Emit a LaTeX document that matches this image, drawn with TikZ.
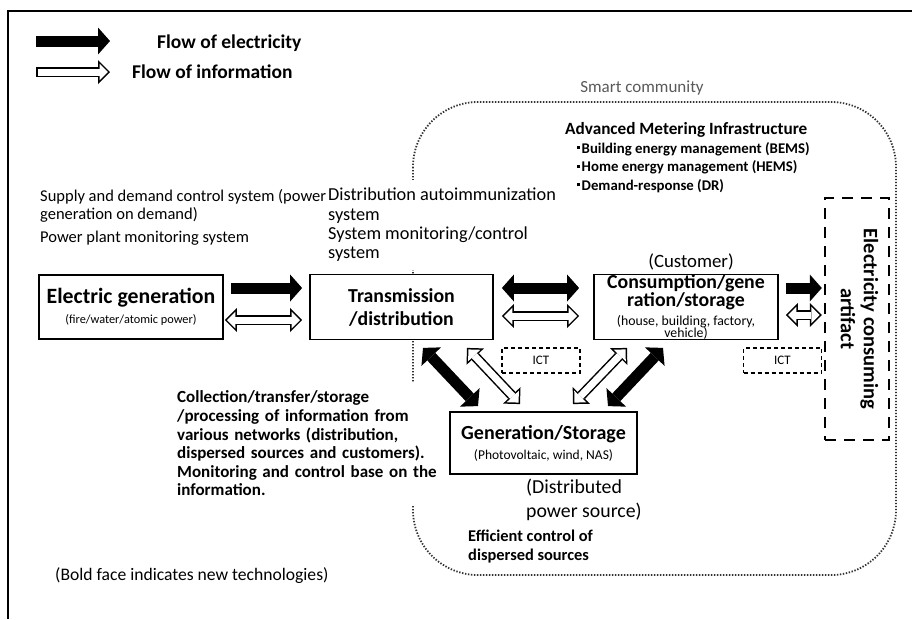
\documentclass[tikz,border=0pt]{standalone}
\usepackage{fontspec}
\setmainfont{Carlito}
\usepackage{tikz}
\usetikzlibrary{arrows.meta,positioning}
\tikzset{
    ElecTip/.tip={Triangle[length=12pt, width=27pt, line width=0pt]},
    InfoTip/.tip={Triangle[length=12pt, width=24pt, line width=0pt]},
    InfoIn/.tip={Triangle[length=8.4pt, width=16.8pt, line width=0pt]}
}
\newcommand{\amibullet}{\raisebox{4pt}{\rule{3pt}{3pt}}\hspace{1.5pt}}

\begin{document}
\begin{tikzpicture}[
    x=1pt, y=-1pt,
    box/.style={rectangle, draw, fill=white, line width=1.8pt, align=center, inner sep=0pt},
    ictbox/.style={rectangle, draw, line width=1.1pt, dash pattern=on 4pt off 3pt, minimum width=78pt, minimum height=25pt, font=\fontsize{13}{15}\selectfont},
    note/.style={anchor=west, align=left, inner sep=0pt},
    electo/.style={line width=11pt, -ElecTip},
    elecboth/.style={line width=11pt, ElecTip-ElecTip},
    infoto/.style={line width=10pt, -InfoTip, postaction={draw=white, line width=7pt, shorten <=1.5pt, shorten >=2.1pt, -InfoIn}},
    infoboth/.style={line width=10pt, InfoTip-InfoTip, postaction={draw=white, line width=7pt, shorten <=2.1pt, shorten >=2.1pt, InfoIn-InfoIn}},
    community/.style={draw=black!80, line width=1.8pt, dash pattern=on 1.4pt off 1.6pt, rounded corners=65pt}
]
\useasboundingbox (0,0) rectangle (912,619);

% Frame
\draw[line width=1.3pt] (912,11) -- (8,11) -- (8,619);

% Legend
\coordinate (elecA) at (36,41);
\coordinate (elecB) at (110,41);
\coordinate (infoA) at (36,72);
\coordinate (infoB) at (110,72);
\draw[electo] (elecA) -- (elecB);
\draw[infoto] (infoA) -- (infoB);
\node[note, font=\bfseries\fontsize{19.5}{22}\selectfont] (legelec) at (157,43) {Flow of electricity};
\node[note, font=\bfseries\fontsize{19.5}{22}\selectfont] (leginfo) at (132,72) {Flow of information};

% Smart community
\draw[community] (413,102) rectangle (896,575);
\node[text=black!65, font=\fontsize{17}{20}\selectfont, inner sep=0pt] (smart) at (642,88) {Smart community};

% Notes
\node[note, font=\fontsize{16.5}{18}\selectfont] (supply) at (40,217) {Supply and demand control system (power\\generation on demand)\\[5pt]Power plant monitoring system};
\node[note, fill=white, inner ysep=8pt, font=\fontsize{18.3}{19.3}\selectfont] (distrib) at (328,225) {Distribution autoimmunization\\system\\System monitoring/control\\system};
\node[note, font=\bfseries\fontsize{17.2}{20}\selectfont] (ami) at (565,130) {Advanced Metering Infrastructure};
\node[note, font=\bfseries\fontsize{14.8}{18.5}\selectfont] (amilist) at (577,167.5) {\amibullet Building energy management (BEMS)\\\amibullet Home energy management (HEMS)\\\amibullet Demand-response (DR)};
\node[note, fill=white, inner ysep=9pt, text width=268pt, font=\bfseries\fontsize{17}{18.6}\selectfont] (collect) at (177,443.5) {Collection/transfer/storage\\/processing of information from\\various networks (distribution,\\dispersed sources and customers).\\Monitoring and control base on the\\information.};
\node[font=\fontsize{18.8}{20}\selectfont, inner sep=0pt] (customer) at (691,262) {(Customer)};
\node[note, font=\fontsize{19.8}{24}\selectfont] (distsrc) at (526,500) {(Distributed\\power source)};
\node[note, font=\bfseries\fontsize{16.4}{19}\selectfont] (efficient) at (468,546.5) {Efficient control of\\dispersed sources};
\node[note, font=\fontsize{17.6}{18}\selectfont] (boldnote) at (55,576) {(Bold face indicates new technologies)};

% Main boxes
\node[box, minimum width=184pt, minimum height=64pt, font=\fontsize{12.3}{20}\selectfont] (gen) at (131,307) {{\bfseries\fontsize{21.8}{22}\selectfont Electric generation}\\(fire/water/atomic power)};
\node[box, minimum width=183pt, minimum height=65pt, font=\bfseries\fontsize{19.8}{23}\selectfont] (trans) at (401.5,307) {Transmission\\/distribution};
\node[box, minimum width=184pt, minimum height=65pt, font=\fontsize{13.8}{18}\selectfont] (cons) at (686,307) {{\bfseries\fontsize{19.8}{18}\selectfont Consumption/gene}\\{\bfseries\fontsize{19.8}{18}\selectfont ration/storage}\\[0.5pt](house, building, factory,\\[-6pt]vehicle)};
\node[box, minimum width=187pt, minimum height=62pt, font=\fontsize{13.5}{20}\selectfont] (stor) at (543.5,443) {{\bfseries\fontsize{20}{20}\selectfont Generation/Storage}\\(Photovoltaic, wind, NAS)};
\node[box, line width=2.4pt, dash pattern=on 11pt off 8pt, minimum width=64pt, minimum height=242pt, font=\bfseries\fontsize{20.5}{23}\selectfont] (art) at (857,319) {\rotatebox{-90}{\begin{tabular}{@{}c@{}}Electricity consuming\\artifact\end{tabular}}};

% ICT
\node[ictbox] (ict1) at (541,360.5) {ICT};
\node[ictbox] (ict2) at (782.5,360.5) {ICT};

% Horizontal flows
\draw[electo] ([shift={(7,-19)}]gen.east) -- ([shift={(-7,-19)}]trans.west);
\draw[infoboth] ([shift={(1,13)}]gen.east) -- ([shift={(-7,13)}]trans.west);
\draw[elecboth] ([shift={(8,-19)}]trans.east) -- ([shift={(-14,-19)}]cons.west);
\draw[infoboth] ([shift={(8,9)}]trans.east) -- ([shift={(-14,9)}]cons.west);
\draw[electo] ([shift={(7,-19)}]cons.east) -- ([shift={(-2,-31)}]art.west);
\draw[infoboth] ([shift={(7,8)}]cons.east) -- ([shift={(-2,-4)}]art.west);

% Diagonal flows
\draw[elecboth] ([shift={(21.5,7.5)}]trans.south) -- ([shift={(-65.5,-5)}]stor.north);
\draw[infoboth] ([shift={(65.5,7.5)}]trans.south) -- ([shift={(-23.5,-7)}]stor.north);
\draw[infoboth] ([shift={(-59,7.5)}]cons.south) -- ([shift={(29.5,-7)}]stor.north);
\draw[elecboth] ([shift={(-23,7.5)}]cons.south) -- ([shift={(64.5,-5)}]stor.north);

\end{tikzpicture}
\end{document}
